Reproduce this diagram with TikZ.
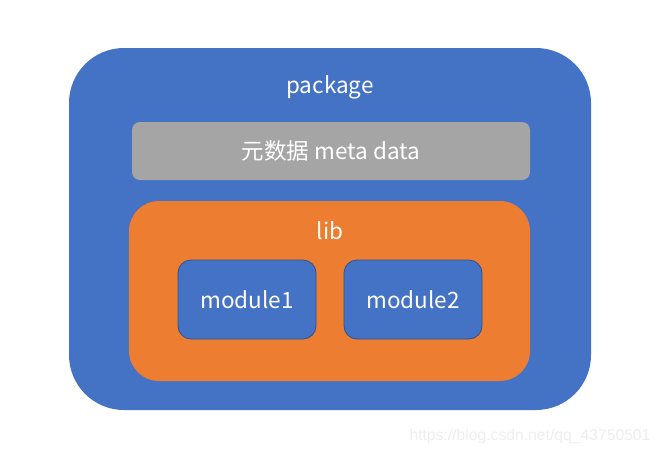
\documentclass[tikz,border=0pt]{standalone}
\usepackage{fontspec}
\setmainfont{Noto Sans CJK SC}
\newfontfamily\wmfont{Liberation Sans}
\definecolor{pkgblue}{HTML}{4472C4}
\definecolor{liborange}{HTML}{ED7D31}
\definecolor{metagray}{HTML}{A5A5A5}
\definecolor{modborder}{HTML}{2F528F}
\definecolor{wmgray}{HTML}{EEEEEE}
\begin{document}
\begin{tikzpicture}[x=1pt,y=-1pt,
  box/.style={inner sep=0pt, outer sep=0pt, anchor=north west},
  lbl/.style={text=white, font=\fontsize{22.5}{26}\selectfont, inner sep=0pt},
  modbox/.style={box, fill=pkgblue, draw=modborder, line width=0.8pt, rounded corners=13pt,
    minimum width=138pt, minimum height=79pt, text=white, font=\fontsize{22.5}{26}\selectfont}]
\useasboundingbox (0,0) rectangle (661,458);
\fill[white] (0,0) rectangle (661,458);
\node[box, fill=pkgblue, rounded corners=55pt, minimum width=522pt, minimum height=362pt] (pkg) at (69,48) {};
\node[lbl] (pkglbl) at (330,87) {package};
\node[box, fill=metagray, rounded corners=8pt, minimum width=398pt, minimum height=58pt,
  text=white, font=\fontsize{22.5}{26}\selectfont] (meta) at (132,122) {元数据 meta data};
\node[box, fill=liborange, rounded corners=30pt, minimum width=401pt, minimum height=180pt] (lib) at (129,201) {};
\node[lbl] (liblbl) at (330,231) {lib};
\node[modbox] (m1) at (178,260) {module1};
\node[modbox] (m2) at (344,260) {module2};
\node[text=wmgray, font=\wmfont\fontsize{15.7}{18}\selectfont, inner sep=0pt] (wm) at (530,436) {https://blog.csdn.net/qq\_43750501};
\end{tikzpicture}
\end{document}
